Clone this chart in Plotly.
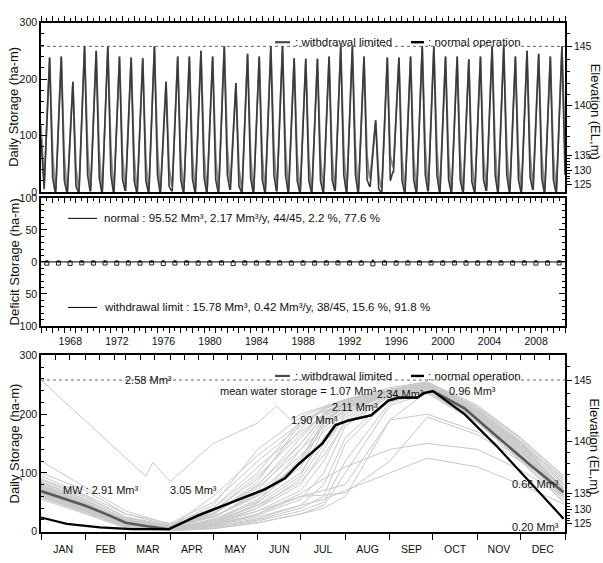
import plotly.graph_objects as go

FONT = "Liberation Sans, Arial, sans-serif"
W, H = 603, 563

# ---------------- long-term daily storage, 1966-2010 ----------------
years = list(range(1966, 2011))
annual_peak = [238, 240, 195, 258, 250, 258, 240, 238, 237, 258,
               195, 240, 240, 250, 240, 258, 193, 245, 240, 258,
               258, 237, 236, 236, 240, 258, 258, 240, 127, 238,
               238, 240, 258, 258, 240, 240, 235, 240, 258, 258,
               240, 250, 245, 240, 258]
trough_normal = [5, 0, 0, 0, 2, 0, 0, 3, 0, 0, 0, 2, 0, 0, 0,
                 0, 5, 0, 0, 0, 2, 0, 0, 0, 0, 3, 0, 0, 10, 0,
                 35, 0, 0, 2, 0, 0, 0, 0, 3, 0, 0, 0, 5, 0, 0]
trough_limited = [15, 5, 4, 6, 12, 8, 5, 10, 6, 4, 8, 12, 5, 6, 8,
                  10, 18, 6, 5, 8, 12, 6, 5, 4, 8, 10, 6, 6, 25, 8,
                  45, 10, 6, 12, 8, 6, 5, 8, 10, 6, 5, 8, 15, 6, 8]
dec_normal = [25, 20, 10, 30, 25, 30, 22, 20, 20, 30, 10, 22, 24, 26, 22,
              30, 10, 25, 22, 30, 30, 20, 20, 20, 22, 30, 30, 22, 5, 20,
              20, 22, 30, 30, 22, 22, 18, 22, 30, 30, 22, 26, 24, 22, 30]
dec_limited = [70, 65, 45, 80, 72, 78, 66, 64, 62, 80, 45, 65, 68, 72, 66,
               80, 44, 70, 66, 82, 80, 64, 62, 64, 66, 78, 80, 66, 30, 64,
               62, 66, 80, 78, 66, 65, 60, 66, 80, 78, 66, 70, 68, 65, 78]
initial_normal = 95
initial_limited = 118

# yearly deficits (ha-m): normal plotted upward, withdrawal limit downward
deficit_normal = [0.8, 0.6, 1.2, 0.5, 0.7, 0.6, 0.9, 0.7, 0.8, 0.5,
                  1.3, 0.7, 0.6, 0.8, 0.7, 0.5, 1.4, 0.6, 0.7, 0.5,
                  0.6, 0.8, 0.7, 0.7, 0.6, 0.5, 0.5, 0.7, 2.0, 0.7,
                  0.8, 0.6, 0.5, 0.5, 0.7, 0.6, 0.8, 0.7, 0.5, 0.5,
                  0.7, 0.6, 0.7, 0.7, 0.5]
deficit_limit = [2.0, 1.8, 2.4, 1.6, 1.8, 1.7, 2.0, 1.8, 1.9, 1.6,
                 2.5, 1.8, 1.7, 1.9, 1.8, 1.6, 2.6, 1.7, 1.8, 1.6,
                 1.7, 1.9, 1.8, 1.8, 1.7, 1.6, 1.6, 1.8, 3.0, 1.8,
                 1.9, 1.7, 1.6, 1.6, 1.8, 1.7, 1.9, 1.8, 1.6, 1.6,
                 1.8, 1.7, 1.8, 1.8, 1.6]

FULL_STORAGE = 258

# elevation (EL, m) scale against storage (ha-m)
elev_labels = ["125", "130", "135", "140", "145"]
elev_storage = [14, 38, 65, 153, 258]
elev_minor_storage = [19, 23, 28, 33, 43, 48, 54, 59, 81, 98, 116, 134,
                      172, 192, 213, 235, 281]

# ---------------- within-year storage (day of year) ----------------
month_names = ["JAN", "FEB", "MAR", "APR", "MAY", "JUN",
               "JUL", "AUG", "SEP", "OCT", "NOV", "DEC"]
month_start = [1, 32, 60, 91, 121, 152, 182, 213, 244, 274, 305, 335, 366]

curve_days = [1, 32, 60, 91, 121, 152, 182, 198, 213, 244, 270, 305, 335, 365]
annual_curves = [
    [120, 75, 35, 12, 40, 100, 190, 205, 215, 235, 250, 205, 150, 90],
    [100, 70, 30, 10, 30, 80, 150, 200, 220, 240, 252, 210, 155, 85],
    [85, 55, 20, 8, 25, 60, 120, 190, 215, 238, 248, 200, 145, 75],
    [80, 50, 18, 6, 20, 50, 100, 160, 205, 235, 250, 205, 150, 70],
    [78, 48, 15, 5, 15, 40, 80, 140, 200, 238, 245, 198, 140, 68],
    [75, 45, 12, 4, 12, 35, 70, 120, 190, 232, 246, 195, 135, 65],
    [72, 44, 14, 6, 18, 45, 95, 175, 210, 240, 250, 200, 140, 62],
    [70, 42, 12, 3, 10, 28, 55, 100, 180, 230, 244, 192, 130, 60],
    [68, 40, 10, 3, 8, 22, 45, 80, 160, 228, 242, 190, 128, 58],
    [65, 38, 10, 2, 8, 20, 40, 60, 150, 225, 240, 188, 125, 55],
    [62, 36, 8, 2, 6, 18, 35, 50, 120, 220, 238, 186, 122, 52],
    [60, 34, 8, 2, 5, 15, 30, 45, 100, 215, 235, 185, 120, 50],
    [58, 32, 8, 3, 10, 25, 45, 55, 70, 100, 125, 110, 80, 47],
    [64, 38, 10, 3, 12, 30, 60, 62, 66, 120, 195, 165, 120, 75],
    [70, 40, 12, 4, 15, 35, 60, 70, 80, 190, 200, 170, 125, 70],
    [90, 60, 25, 10, 35, 90, 175, 210, 225, 240, 250, 205, 150, 80],
    [95, 62, 30, 14, 50, 120, 180, 208, 222, 242, 255, 212, 158, 88],
    [55, 30, 6, 1, 5, 15, 30, 40, 60, 190, 238, 188, 128, 60],
    [66, 40, 12, 3, 20, 55, 110, 185, 212, 236, 248, 198, 140, 66],
    [74, 45, 18, 8, 60, 130, 185, 205, 218, 238, 249, 203, 146, 72],
    [82, 52, 22, 10, 45, 140, 195, 212, 222, 240, 252, 208, 152, 78],
    [60, 35, 10, 4, 30, 75, 140, 178, 205, 232, 246, 196, 138, 64],
    [68, 42, 14, 5, 25, 65, 130, 170, 200, 236, 247, 200, 142, 70],
    [77, 48, 16, 6, 10, 30, 65, 90, 110, 140, 150, 140, 105, 60],
    [72, 46, 16, 5, 35, 95, 165, 200, 218, 238, 250, 206, 150, 74],
    [58, 34, 9, 2, 22, 70, 150, 195, 215, 236, 246, 196, 136, 62],
    [88, 58, 24, 9, 28, 85, 185, 210, 224, 242, 253, 212, 160, 92],
    [64, 40, 12, 3, 14, 48, 125, 188, 212, 234, 244, 194, 134, 60],
    [76, 47, 17, 6, 40, 110, 170, 198, 214, 238, 248, 202, 146, 70],
    [70, 43, 13, 4, 18, 52, 140, 192, 210, 234, 246, 200, 143, 68],
    [84, 54, 21, 8, 32, 78, 160, 202, 220, 240, 251, 208, 153, 82],
    [62, 37, 10, 3, 12, 40, 90, 150, 195, 232, 244, 193, 132, 58],
    [79, 50, 19, 7, 26, 62, 115, 182, 208, 236, 249, 204, 148, 73],
    [67, 41, 13, 4, 16, 44, 85, 130, 185, 230, 243, 191, 131, 61],
]
wet_year_days = [1, 74, 79, 91, 121, 152, 165, 175, 182, 213, 244, 270, 305, 335, 365]
wet_year_vals = [258, 94, 118, 85, 150, 185, 214, 190, 200, 225, 245, 255, 215, 160, 95]

mean_days = [1, 19, 42, 64, 90, 110, 133, 157, 171, 180, 197, 206, 215, 231,
             243, 250, 263, 268, 274, 296, 319, 342, 365]
mean_normal = [24, 13, 7, 4, 4, 27, 49, 72, 91, 114, 150, 181, 189, 198,
               223, 228, 228, 236, 239, 200, 144, 83, 22]
mean_limited_days = [1, 19, 32, 48, 60, 75, 90, 110, 133, 157, 171, 180, 197, 206,
                     215, 231, 243, 250, 263, 268, 274, 296, 319, 342, 365]
mean_limited = [69, 55, 44, 28, 15, 9, 4, 27, 49, 72, 91, 114, 150, 181,
                189, 198, 223, 228, 228, 236, 239, 210, 161, 113, 67]

# ---------------- layout geometry ----------------
X_DOM = [41 / W, 565 / W]
TOP_DOM = [1 - 190 / H, 1 - 17 / H]
MID_DOM = [1 - 327 / H, 1 - 196 / H]
BOT_DOM = [1 - 537 / H, 1 - 357 / H]


def px(x):
    return x / W


def py(y):
    return 1 - y / H


def cycle_series(start, troughs, decs):
    xs, ys = [years[0]], [start]
    for yr, tr, pk, dc in zip(years, troughs, annual_peak, decs):
        xs += [yr + 0.21, yr + 0.27, yr + 0.74, yr + 1.0]
        ys += [tr, tr, pk, dc]
    return xs, ys


fig = go.Figure()

# top panel
xl, yl = cycle_series(initial_limited, trough_limited, dec_limited)
xn, yn = cycle_series(initial_normal, trough_normal, dec_normal)
fig.add_trace(go.Scatter(x=xl, y=yl, mode="lines", xaxis="x", yaxis="y",
                         line=dict(color="#8a8a8a", width=1.8), showlegend=False))
fig.add_trace(go.Scatter(x=xn, y=yn, mode="lines", xaxis="x", yaxis="y",
                         line=dict(color="#3a3a3a", width=1.6), showlegend=False))
fig.add_trace(go.Scatter(x=[], y=[], xaxis="x", yaxis="y2", showlegend=False))

# middle panel (deficits)
mid_x = [y + 0.5 for y in years]
fig.add_trace(go.Scatter(x=[years[0], years[-1] + 1], y=[0, 0], mode="lines",
                         xaxis="x2", yaxis="y3", line=dict(color="#000", width=1),
                         showlegend=False))
fig.add_trace(go.Scatter(x=mid_x, y=[-d for d in deficit_limit], mode="markers",
                         xaxis="x2", yaxis="y3",
                         marker=dict(symbol="square-open", size=4, color="#222",
                                     line=dict(width=1)), showlegend=False))
fig.add_trace(go.Scatter(x=mid_x, y=deficit_normal, mode="markers",
                         xaxis="x2", yaxis="y3",
                         marker=dict(symbol="square", size=2, color="#000"),
                         showlegend=False))
fig.add_trace(go.Scatter(x=[], y=[], xaxis="x3", yaxis="y3", showlegend=False))

# bottom panel
for vals in annual_curves:
    fig.add_trace(go.Scatter(x=curve_days, y=vals, mode="lines", xaxis="x4", yaxis="y5",
                             line=dict(color="#c8c8c8", width=1), showlegend=False))
fig.add_trace(go.Scatter(x=wet_year_days, y=wet_year_vals, mode="lines", xaxis="x4",
                         yaxis="y5", line=dict(color="#c8c8c8", width=1), showlegend=False))
fig.add_trace(go.Scatter(x=mean_limited_days, y=mean_limited, mode="lines", xaxis="x4",
                         yaxis="y5", line=dict(color="#5a5a5a", width=2.6), showlegend=False))
fig.add_trace(go.Scatter(x=mean_days, y=mean_normal, mode="lines", xaxis="x4",
                         yaxis="y5", line=dict(color="#000", width=2.2), showlegend=False))
fig.add_trace(go.Scatter(x=[], y=[], xaxis="x5", yaxis="y5", showlegend=False))
fig.add_trace(go.Scatter(x=[], y=[], xaxis="x4", yaxis="y6", showlegend=False))

tick_font = dict(family=FONT, size=10.5, color="#111")
year_range = [years[0], years[-1] + 1]
year_ticks = list(range(years[0], years[-1] + 2))
label_years = list(range(1968, 2011, 4))
year_text = [str(y) if y in label_years else "" for y in year_ticks]

frame = dict(showline=True, linecolor="#000", linewidth=1.6, showgrid=False,
             zeroline=False, tickcolor="#000", tickfont=tick_font)

month_mid = [(a + b) / 2 for a, b in zip(month_start[:-1], month_start[1:])]
dekad_ticks = [d for m in month_start[:-1] for d in (m, m + 10, m + 20)]

fig.update_layout(
    width=W, height=H, margin=dict(l=0, r=0, t=0, b=0),
    paper_bgcolor="white", plot_bgcolor="white",
    font=dict(family=FONT, size=11, color="#111"),
    # top panel
    xaxis=dict(domain=X_DOM, anchor="y", range=year_range, side="top", mirror=True,
               tickmode="array", tickvals=year_ticks, showticklabels=False,
               ticks="outside", ticklen=5,
               minor=dict(dtick=0.5, tick0=1966, ticks="outside", ticklen=3,
                          tickcolor="#000"), **frame),
    yaxis=dict(domain=TOP_DOM, anchor="x", range=[0, 300], tickvals=[0, 100, 200, 300],
               ticks="inside", ticklen=6, mirror=True,
               minor=dict(dtick=20, ticks="inside", ticklen=3, tickcolor="#000"), **frame),
    yaxis2=dict(overlaying="y", anchor="x", side="right", range=[0, 300],
                tickmode="array", tickvals=elev_storage, ticktext=elev_labels,
                ticks="outside", ticklen=5,
                minor=dict(tickvals=elev_minor_storage, ticks="outside", ticklen=3,
                           tickcolor="#000"), **frame),
    # middle panel
    xaxis2=dict(domain=X_DOM, anchor="y3", range=year_range, side="bottom", mirror=True,
                tickmode="array", tickvals=year_ticks, ticktext=year_text,
                ticks="outside", ticklen=5, ticklabelshift=6,
                minor=dict(dtick=0.5, tick0=1966, ticks="outside", ticklen=3,
                           tickcolor="#000"), **frame),
    xaxis3=dict(overlaying="x2", anchor="y3", range=year_range, side="top",
                tickmode="array", tickvals=year_ticks, showticklabels=False,
                ticks="inside", ticklen=5,
                minor=dict(dtick=0.5, tick0=1966, ticks="inside", ticklen=3,
                           tickcolor="#000"), **frame),
    yaxis3=dict(domain=MID_DOM, anchor="x2", range=[-100, 100],
                tickmode="array", tickvals=[-100, -50, 0, 50, 100],
                ticktext=["100", "50", "0", "50", "100"],
                ticks="inside", ticklen=6, mirror="ticks",
                minor=dict(dtick=10, ticks="inside", ticklen=3, tickcolor="#000"), **frame),
    # bottom panel
    xaxis4=dict(domain=X_DOM, anchor="y5", range=[1, 366], side="bottom", mirror=True,
                tickmode="array", tickvals=month_mid, ticktext=month_names,
                ticks="", ticklen=0, ticklabelstandoff=7,
                minor=dict(tickvals=month_start, ticks="outside", ticklen=7,
                           tickcolor="#000"), **frame),
    xaxis5=dict(overlaying="x4", anchor="y5", range=[1, 366], side="top",
                tickmode="array", tickvals=dekad_ticks, showticklabels=False,
                ticks="inside", ticklen=5, **frame),
    yaxis5=dict(domain=BOT_DOM, anchor="x4", range=[0, 300], tickvals=[0, 100, 200, 300],
                ticks="inside", ticklen=6, mirror=True,
                minor=dict(dtick=20, ticks="inside", ticklen=3, tickcolor="#000"), **frame),
    yaxis6=dict(overlaying="y5", anchor="x4", side="right", range=[0, 300],
                tickmode="array", tickvals=elev_storage, ticktext=elev_labels,
                ticks="outside", ticklen=5,
                minor=dict(tickvals=elev_minor_storage, ticks="outside", ticklen=3,
                           tickcolor="#000"), **frame),
)

# full-storage reference lines
for yref in ("y", "y5"):
    xref = "x" if yref == "y" else "x4"
    fig.add_shape(type="line", xref=f"{xref} domain", yref=yref, x0=0, x1=1,
                  y0=FULL_STORAGE, y1=FULL_STORAGE,
                  line=dict(color="#666", width=1, dash="3px,3px"), layer="below")


def ann(text, x, y, size=11, xanchor="center", angle=0):
    fig.add_annotation(text=text, x=px(x), y=py(y), xref="paper", yref="paper",
                       showarrow=False, xanchor=xanchor, yanchor="middle",
                       textangle=angle,
                       font=dict(family=FONT, size=size, color="#111"))


def glyph(x0, x1, y, color, width):
    fig.add_shape(type="line", xref="paper", yref="paper", x0=px(x0), x1=px(x1),
                  y0=py(y), y1=py(y), line=dict(color=color, width=width))


# axis titles
ann("Daily Storage (ha-m)", 14, 103, size=13, angle=-90)
ann("Deficit Storage (ha-m)", 14, 262, size=13, angle=-90)
ann("Daily Storage (ha-m)", 14, 447, size=13, angle=-90)
ann("Elevation (EL,m)", 595, 108, size=13, angle=90)
ann("Elevation (EL,m)", 595, 450, size=13, angle=90)

# legends of the storage panels
for ly in (37, 378):
    glyph(275, 290, ly, "#4a4a4a", 2.2)
    ann(": withdrawal limited", 293, ly, size=11.5, xanchor="left")
    glyph(411, 424, ly, "#000", 2.4)
    ann(": normal operation", 426, ly, size=11.5, xanchor="left")

# deficit statistics
glyph(68, 97, 217, "#000", 1)
ann("normal : 95.52 Mm³, 2.17 Mm³/y, 44/45, 2.2 %, 77.6 %", 102, 217,
    size=11.5, xanchor="left")
glyph(68, 97, 308, "#000", 1)
ann("withdrawal limit : 15.78 Mm³, 0.42 Mm³/y, 38/45, 15.6 %, 91.8 %", 102, 308,
    size=11.5, xanchor="left")

# storage annotations in the within-year panel
ann("2.58 Mm³", 148, 382)
ann("mean water storage = 1.07 Mm³", 298, 393)
ann("MW : 2.91 Mm³", 101, 495)
ann("3.05 Mm³", 193, 495)
ann("1.90 Mm³", 314, 423)
ann("2.11 Mm³", 355, 410)
ann("2.34 Mm³", 400, 396)
ann("0.96 Mm³", 472, 393)
ann("0.66 Mm³", 535, 488)
ann("0.20 Mm³", 535, 532)

fig.write_html("out.html")
